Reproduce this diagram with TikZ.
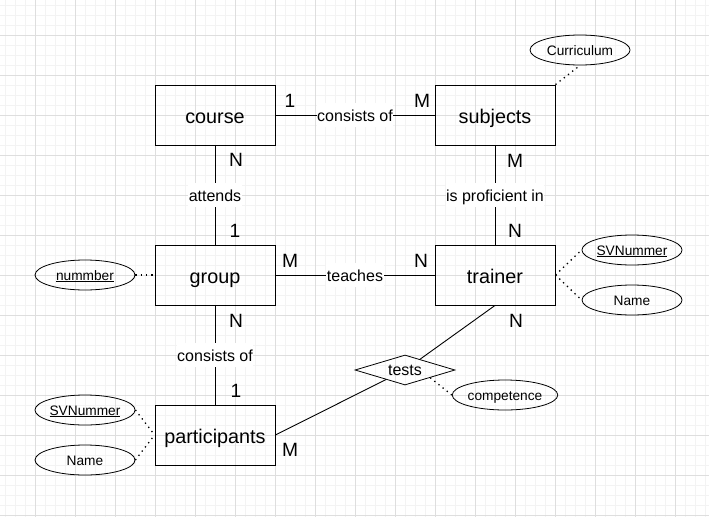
\documentclass[tikz,border=0pt]{standalone}
\usepackage{fontspec}
\setmainfont{Liberation Sans}
\usetikzlibrary{shapes.geometric}
\definecolor{gridmajor}{HTML}{DEDEDE}
\definecolor{gridminor}{HTML}{F3F3F3}
\tikzset{
  entity/.style={draw, line width=0.9pt, minimum width=120pt, minimum height=60pt, inner sep=0pt, text height=18pt, text depth=2pt, font=\fontsize{19.8}{22}\selectfont},
  attr/.style={draw, ellipse, line width=0.8pt, minimum width=100pt, minimum height=30pt, inner sep=0pt, text height=10pt, text depth=0pt, font=\fontsize{13.7}{16}\selectfont},
  rel/.style={draw, diamond, aspect=3.33, line width=0.8pt, minimum width=100pt, minimum height=30pt, inner sep=0pt, text height=11pt, text depth=0pt, font=\fontsize{16}{18}\selectfont},
  conn/.style={line width=0.9pt},
  dots/.style={line width=1.3pt, dash pattern=on 1.3pt off 4pt},
  elabel/.style={fill=white, inner xsep=0.5pt, inner ysep=2pt, text height=16pt, text depth=4pt, font=\fontsize{16}{18}\selectfont},
  card/.style={inner sep=0pt, font=\fontsize{19.2}{22}\selectfont},
}
\begin{document}
\begin{tikzpicture}[x=1pt, y=-1pt]
\useasboundingbox (0,0) rectangle (709,517);
\fill[white] (0,0) rectangle (709,517);
% grid
\foreach \k in {5,15,...,705} {
  \draw[gridminor, line width=0.8pt] (\k,0) -- (\k,517);
}
\foreach \k in {5,15,...,515} {
  \draw[gridminor, line width=0.8pt] (0,\k) -- (709,\k);
}
\foreach \k in {35,75,...,675} {
  \draw[gridmajor, line width=0.8pt] (\k,0) -- (\k,517);
}
\foreach \k in {35,75,...,515} {
  \draw[gridmajor, line width=0.8pt] (0,\k) -- (709,\k);
}
% entities
\node[entity] (course) at (215,115) {course};
\node[entity] (subjects) at (495,115) {subjects};
\node[entity] (group) at (215,275) {group};
\node[entity] (trainer) at (495,275) {trainer};
\node[entity] (participants) at (215,435) {participants};
% attributes
\node[attr] (curriculum) at (580,50) {Curriculum};
\node[attr] (nummber) at (85,275) {\underline{nummber}};
\node[attr] (svleft) at (85,410) {\underline{SVNummer}};
\node[attr] (nameleft) at (85,460) {Name};
\node[attr] (svright) at (632,250) {\underline{SVNummer}};
\node[attr] (nameright) at (632,300) {Name};
\node[attr] (competence) at (505,395) {competence};
% relationship
\node[rel] (tests) at (405,370) {tests};
% connectors
\draw[conn] (course) -- node[elabel] {consists of} (subjects);
\draw[conn] (course) -- node[elabel] {attends} (group);
\draw[conn] (subjects) -- node[elabel] {is proficient in} (trainer);
\draw[conn] (group) -- node[elabel] {teaches} (trainer);
\draw[conn] (group) -- node[elabel] {consists of} (participants);
\draw[conn] (trainer.south) -- (tests);
\draw[conn] (participants.east) -- (tests);
% dotted attribute links
\draw[dots] (subjects.north east) -- (curriculum.south);
\draw[dots] (nummber.east) -- (group.west);
\draw[dots] (svleft.east) -- (participants.west);
\draw[dots] (nameleft.east) -- (participants.west);
\draw[dots] (trainer.east) -- (svright.west);
\draw[dots] (trainer.east) -- (nameright.west);
\draw[dots] (tests.south east) -- (competence.west);
% cardinalities
\node[card] (c1) at (290,101) {1};
\node[card] (c2) at (422,101) {M};
\node[card] (c3) at (236,160) {N};
\node[card] (c4) at (235,231) {1};
\node[card] (c5) at (515,161) {M};
\node[card] (c6) at (515,231) {N};
\node[card] (c7) at (290,261) {M};
\node[card] (c8) at (421,261) {N};
\node[card] (c9) at (236,321) {N};
\node[card] (c10) at (236,391) {1};
\node[card] (c11) at (516,321) {N};
\node[card] (c12) at (290,450) {M};
\end{tikzpicture}
\end{document}
